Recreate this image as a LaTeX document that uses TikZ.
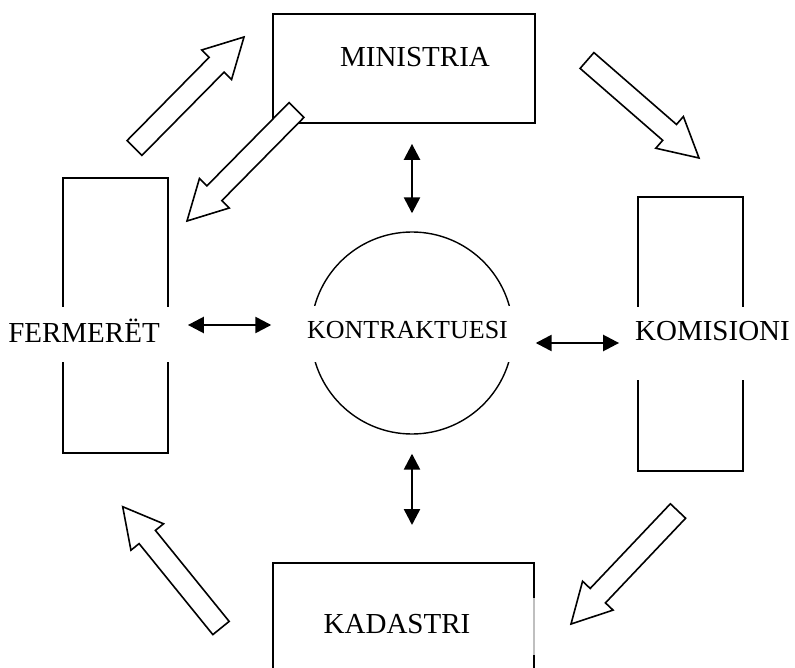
\documentclass[tikz,border=0pt]{standalone}
\usepackage{fontspec}
\setmainfont{Liberation Serif}
\usetikzlibrary{arrows.meta,calc}
\newcommand{\blockarrow}[2]{%
  \coordinate (bah) at ($(#2)!39pt!(#1)$);
  \draw[blk] ($(#1)!10.5pt!90:(#2)$) -- ($(bah)!10.5pt!90:(#2)$) -- ($(bah)!21pt!90:(#2)$) -- (#2)
    -- ($(bah)!21pt!-90:(#2)$) -- ($(bah)!10.5pt!-90:(#2)$) -- ($(#1)!10.5pt!-90:(#2)$) -- cycle;}
\begin{document}
\begin{tikzpicture}[x=1pt,y=-1pt,
  box/.style={draw, line width=1.8pt, inner sep=0},
  lbl/.style={font=\fontsize{29}{34}\selectfont, inner sep=0, anchor=base},
  cover/.style={fill=white},
  dbl/.style={line width=2.5pt, {Triangle[length=16pt,width=16pt]}-{Triangle[length=16pt,width=16pt]}},
  blk/.style={draw, fill=white, line width=1.6pt, line join=miter}]
\useasboundingbox (0,0) rectangle (795,668);

% boxes
\node[box, minimum width=262pt, minimum height=109pt] (ministria) at (404,68.5) {};
\node[box, minimum width=105pt, minimum height=275pt] (fermeret) at (115.5,315.5) {};
\node[box, minimum width=105pt, minimum height=274pt] (komisioni) at (690.5,334) {};
\node[draw, line width=1.4pt, circle, inner sep=0, minimum size=202pt] (kontr) at (412,333) {};
\node[inner sep=0, minimum width=261pt, minimum height=109pt, anchor=north] (kadastri) at (403.5,563) {};
\draw[line width=1.8pt] (273,672) -- (273,563) -- (534,563) -- (534,598);
\draw[line width=1.8pt, black!25] (534,598) -- (534,655);
\draw[line width=1.8pt] (534,655) -- (534,672);

% labels
\node[lbl] (minL) at (415,66.7) {MINISTRIA};
\node[lbl] (kadL) at (397,633) {KADASTRI};
\node[lbl, cover, text height=35pt, text depth=20pt, minimum width=172pt] (fermL) at (84,342) {FERMERËT};
\node[lbl, cover, text height=33pt, text depth=40pt, minimum width=160pt] (komL) at (712.5,340) {KOMISIONI};
\node[lbl, font=\fontsize{26}{31}\selectfont, cover, text height=32pt, text depth=24pt, minimum width=216pt] (kontrL) at (407.5,338) {KONTRAKTUESI};

% double arrows
\draw[dbl, shorten <=20pt, shorten >=18pt] (ministria.south -| kontr.north) -- (kontr.north);
\draw[dbl, shorten <=19pt, shorten >=38pt] (kontr.south) -- (kontr.south |- kadastri.north);
\draw[dbl] ($(fermeret.east)+(19,9.5)$) -- ($(kontr.west)+(-39,-8)$);
\draw[dbl] ($(kontr.east)+(22,10)$) -- ($(komisioni.west)+(-18,9)$);

% block arrows
\coordinate (a1s) at (134.5,148); \coordinate (a1e) at (244,37);
\coordinate (a2s) at (296.5,110); \coordinate (a2e) at (187,221);
\coordinate (a3s) at (587,60.5);  \coordinate (a3e) at (699,158);
\coordinate (a4s) at (678,511);   \coordinate (a4e) at (571,624);
\coordinate (a5s) at (221,628);   \coordinate (a5e) at (122.7,506.7);
\blockarrow{a1s}{a1e}
\blockarrow{a2s}{a2e}
\blockarrow{a3s}{a3e}
\blockarrow{a4s}{a4e}
\blockarrow{a5s}{a5e}
\end{tikzpicture}
\end{document}
